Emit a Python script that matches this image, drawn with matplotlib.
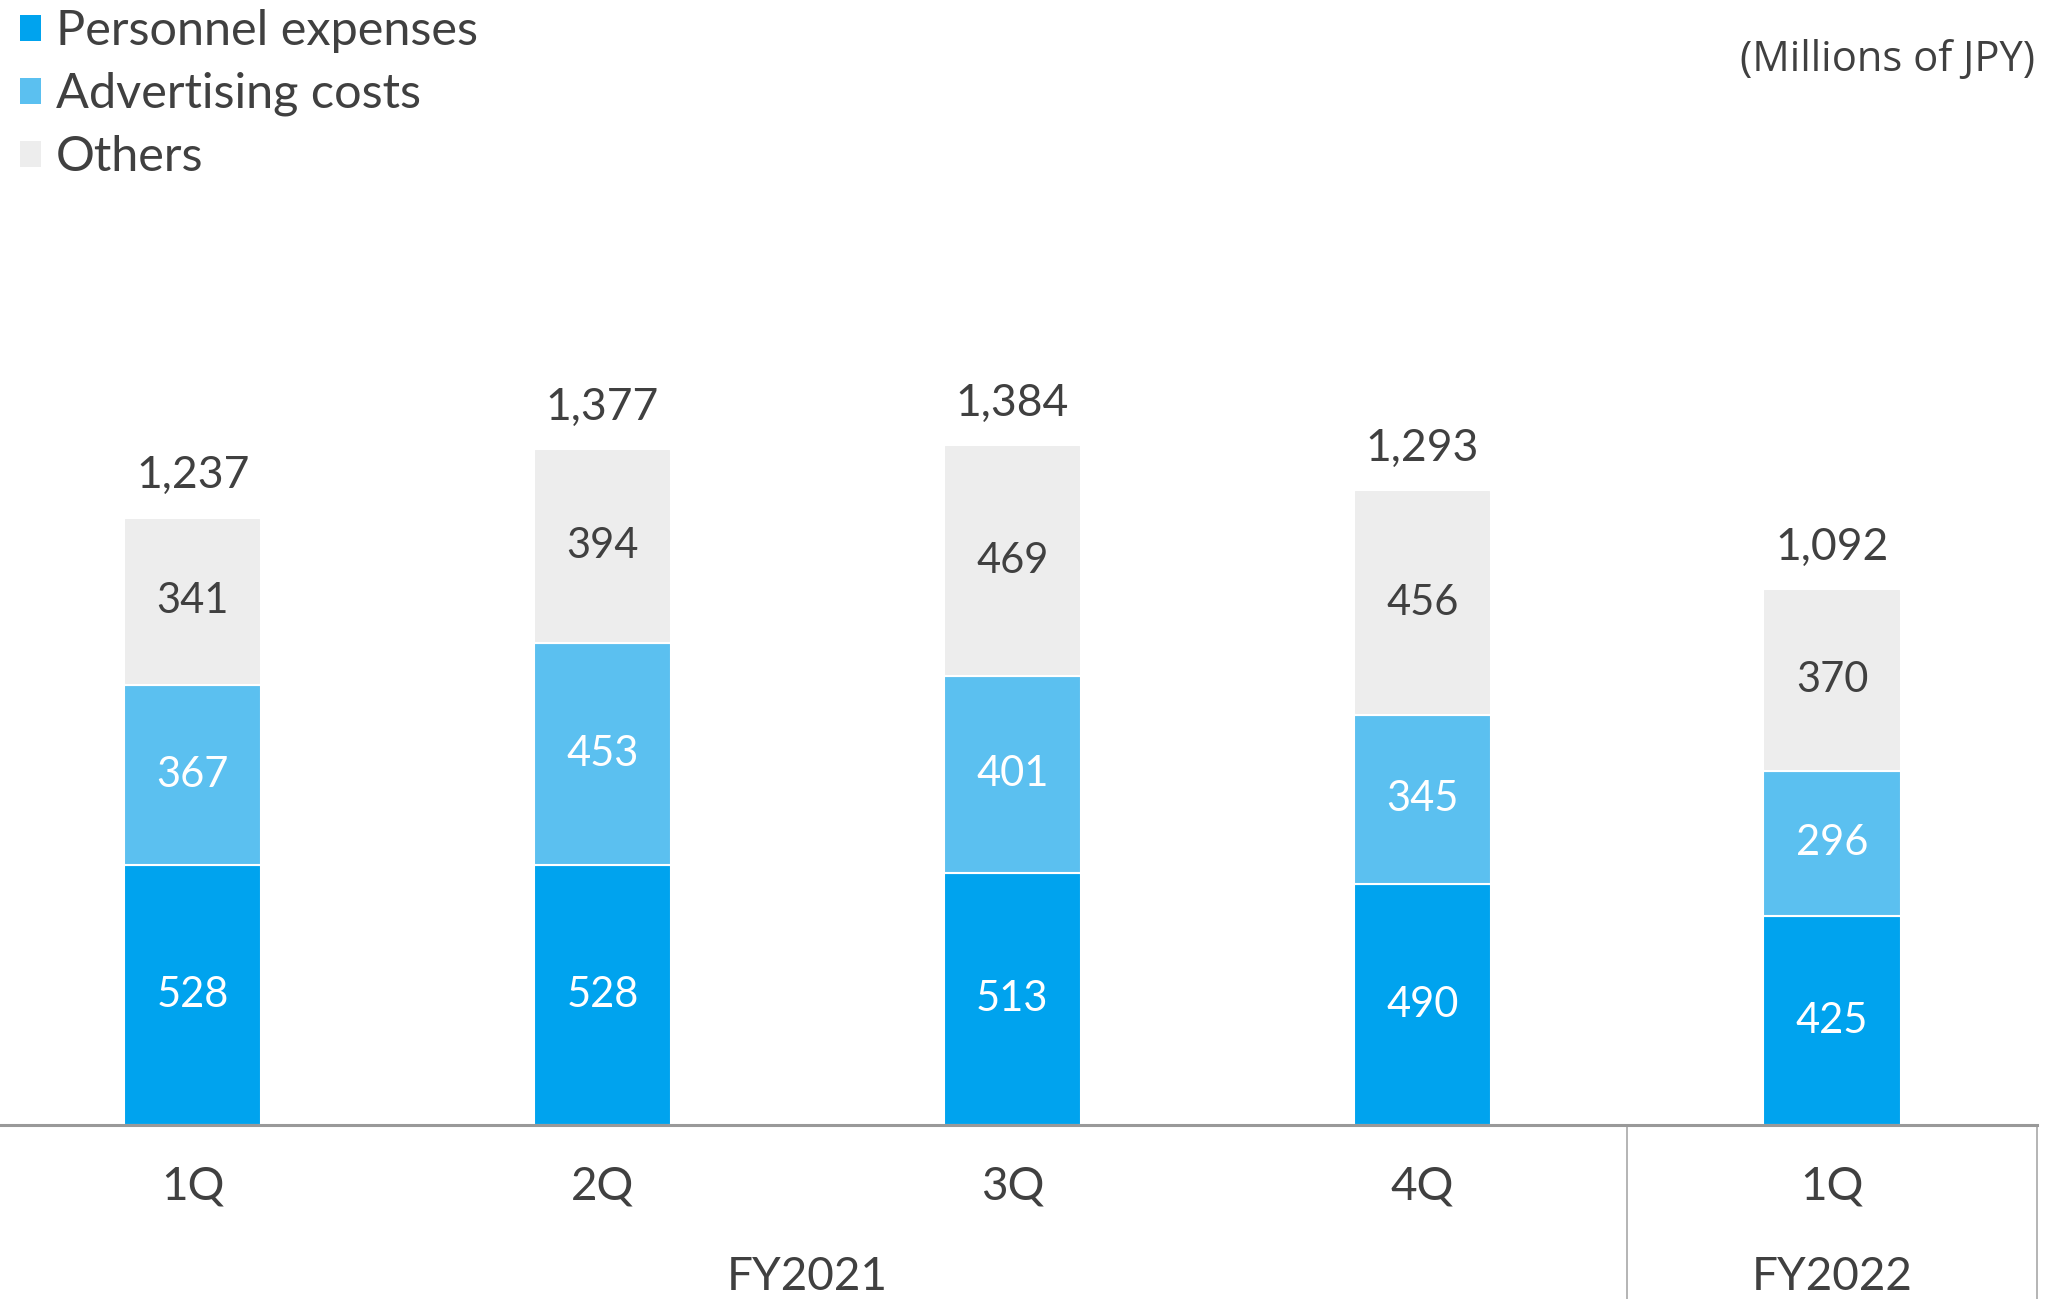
import matplotlib
matplotlib.use("Agg")
import matplotlib.pyplot as plt
import matplotlib.transforms as mtransforms
from matplotlib.patches import Patch

quarters = ["1Q", "2Q", "3Q", "4Q", "1Q"]
fiscal_years = ["FY2021", "FY2022"]
personnel = [528, 528, 513, 490, 425]
advertising = [367, 453, 401, 345, 296]
others = [341, 394, 469, 456, 370]
totals = [1237, 1377, 1384, 1293, 1092]

c_pers = "#00A3EE"
c_adv = "#5BC0F0"
c_oth = "#EDEDED"
txt = "#404040"

plt.rcParams['font.family'] = ['Lato', 'DejaVu Sans']

W, H = 2049, 1299
fig = plt.figure(figsize=(W / 100, H / 100), dpi=100)
ax_bottom_px = 1125
ax = fig.add_axes([0, (H - ax_bottom_px) / H, 2037 / W, ax_bottom_px / H])

x = list(range(len(quarters)))
bw = 0.335
ax.bar(x, personnel, bw, color=c_pers, edgecolor="white", linewidth=1.5)
bottom2 = personnel
ax.bar(x, advertising, bw, bottom=bottom2, color=c_adv, edgecolor="white", linewidth=1.5)
bottom3 = [p + a for p, a in zip(personnel, advertising)]
ax.bar(x, others, bw, bottom=bottom3, color=c_oth, edgecolor="white", linewidth=1.5)

for i in x:
    ax.text(i, personnel[i] / 2, f"{personnel[i]:,}", ha="center", va="center",
            color="white", fontsize=30)
    ax.text(i, personnel[i] + advertising[i] / 2, f"{advertising[i]:,}", ha="center",
            va="center", color="white", fontsize=30)
    ax.text(i, bottom3[i] + others[i] / 2, f"{others[i]:,}", ha="center", va="center",
            color=txt, fontsize=30)
    top = bottom3[i] + others[i]
    ax.annotate(f"{totals[i]:,}", (i, top), xytext=(0, 21), textcoords="offset points",
                ha="center", va="baseline", color=txt, fontsize=32)

ax.set_xlim(-0.47, 4.5)
ax.set_ylim(0, 2289)
ax.set_xticks([])
ax.set_yticks([])
for s in ["top", "left", "right"]:
    ax.spines[s].set_visible(False)
ax.spines["bottom"].set_color("#999999")
ax.spines["bottom"].set_linewidth(2.2)

trans = mtransforms.blended_transform_factory(ax.transData, ax.transAxes)
for i, q in enumerate(quarters):
    ax.text(i, -62 / ax_bottom_px, q, transform=trans, ha="center", va="center",
            fontsize=33, color=txt)
ax.text(1.5, -152 / ax_bottom_px, fiscal_years[0], transform=trans, ha="center",
        va="center", fontsize=33, color=txt)
ax.text(4, -152 / ax_bottom_px, fiscal_years[1], transform=trans, ha="center",
        va="center", fontsize=33, color=txt)

for xv in [3.5, 4.5]:
    ax.plot([xv, xv], [0, -0.16], transform=trans, color="#A8A8A8", lw=1.2,
            clip_on=False, solid_capstyle="butt")

handles = [Patch(facecolor=c_pers), Patch(facecolor=c_adv), Patch(facecolor=c_oth)]
labels = ["Personnel expenses", "Advertising costs", "Others"]
leg = fig.legend(handles, labels, loc="upper left", bbox_to_anchor=(20 / W, 1 - 9 / H),
                 frameon=False, fontsize=35, handlelength=0.44, handleheight=0.44,
                 handletextpad=0.3, labelspacing=0.39, borderpad=0, borderaxespad=0)
for t in leg.get_texts():
    t.set_color(txt)

fig.text(2035 / W, 1 - 60 / H, "(Millions of JPY)", ha="right", va="center",
         fontsize=30, color=txt, family=["Open Sans", "DejaVu Sans"])

fig.savefig("out.png", dpi=100, facecolor="white")
